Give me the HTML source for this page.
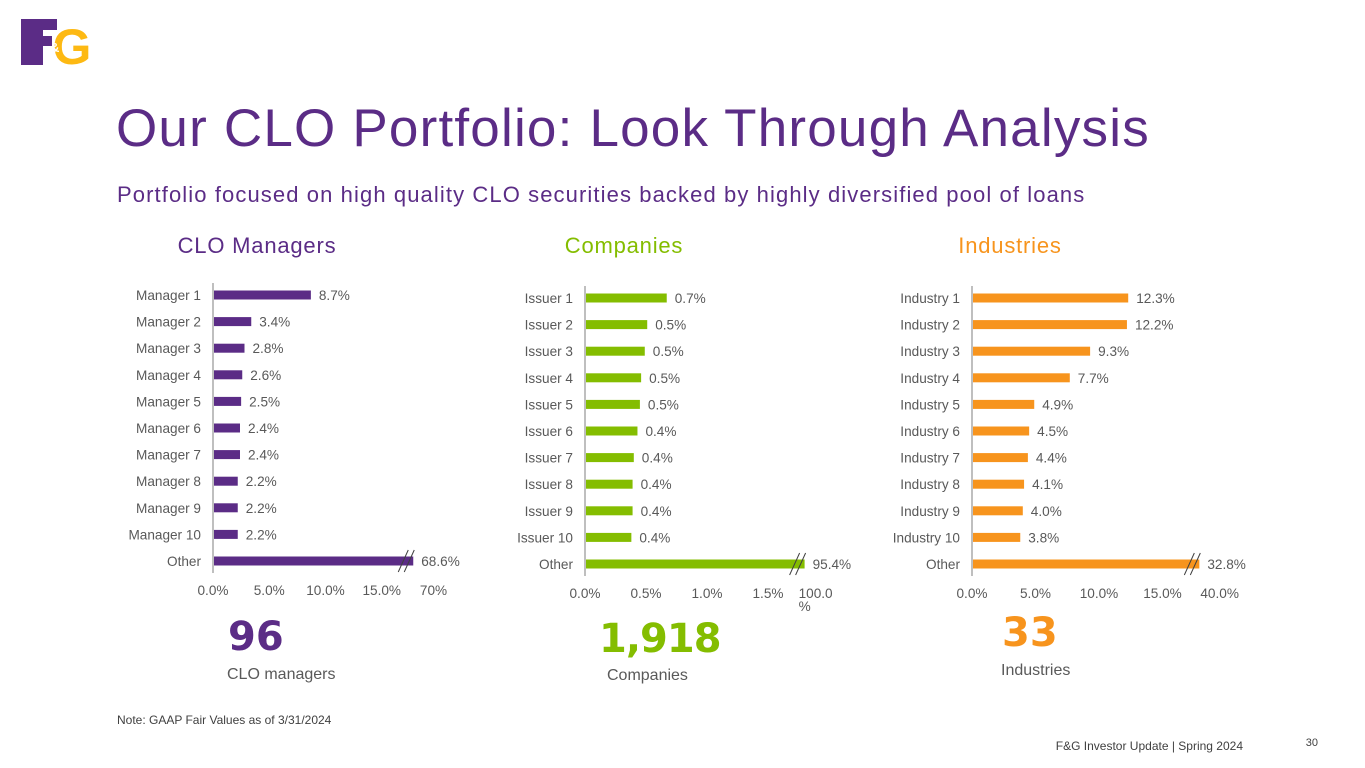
<!DOCTYPE html>
<html><head><meta charset="utf-8"><style>
html,body{margin:0;padding:0;background:#fff;}
svg{display:block;font-family:"Liberation Sans",sans-serif;}
</style></head><body>
<svg id="s" width="1365" height="768" viewBox="0 0 1365 768">
<g>
<rect x="21" y="19" width="22" height="46" fill="#5b2c86"/>
<rect x="21" y="19" width="36" height="11" fill="#5b2c86"/>
<rect x="21" y="36" width="31" height="10" fill="#5b2c86"/>
<text x="72" y="64" font-size="50" font-weight="bold" fill="#fdb913" text-anchor="middle" font-family="Liberation Sans,sans-serif">G</text>
<text x="50" y="52" font-size="13" font-weight="bold" fill="#fff">&amp;</text>
</g>
<text x="116" y="146" font-size="53" fill="#5b2c86" letter-spacing="1.2">Our CLO Portfolio: Look Through Analysis</text>
<text x="117" y="202" font-size="22" fill="#5b2c86" letter-spacing="1.1">Portfolio focused on high quality CLO securities backed by highly diversified pool of loans</text>
<text x="257" y="253" font-size="22" fill="#5b2c86" text-anchor="middle" letter-spacing="0.8">CLO Managers</text>
<text x="624" y="253" font-size="22" fill="#84bd00" text-anchor="middle" letter-spacing="0.8">Companies</text>
<text x="1010" y="253" font-size="22" fill="#f7941d" text-anchor="middle" letter-spacing="0.8">Industries</text>
<text x="228" y="650" font-size="40" font-weight="bold" fill="#5b2c86" font-family="DejaVu Sans,sans-serif">96</text>
<text x="227" y="679" font-size="16" fill="#595959">CLO managers</text>
<text x="599" y="652" font-size="40" font-weight="bold" fill="#84bd00" font-family="DejaVu Sans,sans-serif" letter-spacing="-1">1,918</text>
<text x="607" y="680" font-size="16" fill="#595959">Companies</text>
<text x="1002" y="646" font-size="40" font-weight="bold" fill="#f7941d" font-family="DejaVu Sans,sans-serif">33</text>
<text x="1001" y="675" font-size="16" fill="#595959">Industries</text>
<text x="117" y="724" font-size="12" fill="#404040">Note: GAAP Fair Values as of 3/31/2024</text>
<text x="1243" y="750" font-size="12" fill="#404040" text-anchor="end">F&amp;G Investor Update | Spring 2024</text>
<text x="1318" y="746" font-size="11" fill="#404040" text-anchor="end">30</text>
</svg>
<script>
var mgrCats=["Manager 1","Manager 2","Manager 3","Manager 4","Manager 5","Manager 6","Manager 7","Manager 8","Manager 9","Manager 10","Other"];
var mgrVals=[8.7,3.4,2.8,2.6,2.5,2.4,2.4,2.2,2.2,2.2,68.6];
var mgrTicks=["0.0%","5.0%","10.0%","15.0%","70%"];
var mgrTickVals=[0,5,10,15,19.6];
var coCats=["Issuer 1","Issuer 2","Issuer 3","Issuer 4","Issuer 5","Issuer 6","Issuer 7","Issuer 8","Issuer 9","Issuer 10","Other"];
var coVals=[0.67,0.51,0.49,0.46,0.45,0.43,0.4,0.39,0.39,0.38,95.4];
var coTicks=["0.0%","0.5%","1.0%","1.5%","100.0\n%"];
var coTickVals=[0,0.5,1.0,1.5,1.8];
var indCats=["Industry 1","Industry 2","Industry 3","Industry 4","Industry 5","Industry 6","Industry 7","Industry 8","Industry 9","Industry 10","Other"];
var indVals=[12.3,12.2,9.3,7.7,4.9,4.5,4.4,4.1,4.0,3.8,32.8];
var indTicks=["0.0%","5.0%","10.0%","15.0%","40.0%"];
var indTickVals=[0,5,10,15,19.5];

var NS="http://www.w3.org/2000/svg",svg=document.getElementById('s');
function mk(t,a,txt){var e=document.createElementNS(NS,t);for(var k in a)e.setAttribute(k,a[k]);if(txt!=null)e.textContent=txt;svg.appendChild(e);return e;}
function chart(key,cats,vals,ticks,tickVals,x0,pxPer,y0,color,cap,labels){
  var step=26.6;
  function xs(v){return x0+Math.min(v,cap)*pxPer;}
  function ys(i){return y0+i*step;}
  var ax=mk('line',{x1:x0,x2:x0,y1:ys(0)-12,y2:ys(cats.length-1)+12,stroke:'#7f7f7f','stroke-width':1});
  
  
  cats.forEach(function(c,i){
    var y=ys(i);
    var t=mk('text',{x:x0-12,y:y+5,'font-size':13.6,fill:'#595959','text-anchor':'end'},c);
    
    
    var w=xs(vals[i])-x0;
    var b=mk('rect',{x:x0+1,y:y-4.5,width:Math.max(0,w-1),height:9,fill:color});
    
    
    var l=mk('text',{x:x0+w+8,y:y+5,'font-size':13.6,fill:'#595959'},labels[i]);
    
    
    if(vals[i]>cap){
      var bx=x0+w-10;
      [0,6].forEach(function(o){
        var ln=mk('line',{x1:bx+o-5,y1:y+11,x2:bx+o+5,y2:y-11,stroke:'#404040','stroke-width':1});
        
        
      });
    }
  });
  ticks.forEach(function(t,i){
    var parts=t.split("\n");
    var x=x0+tickVals[i]*pxPer;
    parts.forEach(function(p,j){
      var e=mk('text',{x:parts.length>1?x-6:x,y:y0+step*(cats.length-1)+34+j*13,'font-size':13.6,fill:'#595959','text-anchor':parts.length>1?'start':'middle'},p);
      
      
    });
  });
}
function fmt(a){return a.map(function(v){return v.toFixed(1)+'%';});}
chart('managers',mgrCats,mgrVals,mgrTicks,mgrTickVals,213,11.25,295,'#5b2c86',17.8,fmt(mgrVals));
chart('companies',coCats,coVals,coTicks,coTickVals,585,122,298,'#84bd00',1.8,coVals.map(function(v){return (Math.round(v*10)/10).toFixed(1)+'%';}));
chart('industries',indCats,indVals,indTicks,indTickVals,972,12.7,298,'#f7941d',17.9,fmt(indVals));
</script>
</body></html>
